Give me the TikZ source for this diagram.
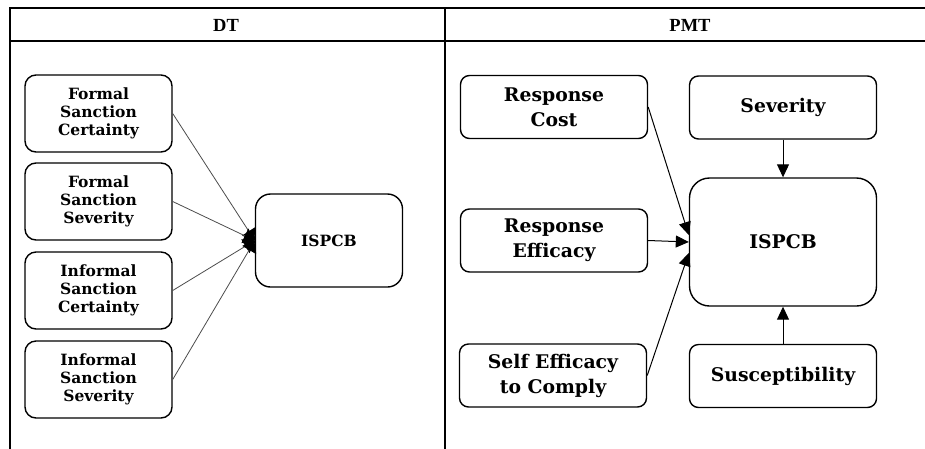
\documentclass[tikz,border=0pt]{standalone}
\usepackage{fontspec}
\setmainfont{DejaVu Serif}
\newfontfamily\headfont{Liberation Serif}
\usetikzlibrary{arrows.meta}
\tikzset{
  tline/.style={line width=2pt, line cap=rect},
  dtbox/.style={draw, line width=1.4pt, rounded corners=11pt, align=center,
    minimum width=147pt, minimum height=77pt, inner sep=0pt,
    font=\fontsize{15.5}{18}\selectfont\bfseries},
  dtcore/.style={dtbox, minimum height=93pt, rounded corners=15pt},
  pmbox/.style={draw, line width=1.4pt, rounded corners=9pt, align=center,
    minimum width=187pt, minimum height=63pt, inner sep=0pt,
    font=\fontsize{18.8}{25}\selectfont\bfseries},
  pmcore/.style={pmbox, minimum height=128pt, rounded corners=20pt},
  dtarrow/.style={draw=black!70, line width=0.8pt, -{Triangle[length=11pt,width=16pt,fill=black,color=black]}},
  pmarrow/.style={line width=1pt, -{Triangle[length=13pt,width=12pt]}},
  head/.style={font=\headfont\fontsize{18.5}{20}\selectfont\bfseries}
}
\begin{document}
\begin{tikzpicture}[x=1pt,y=-1pt]
\useasboundingbox (0,0) rectangle (925,448);
% table
\coordinate (tl) at (10,8);
\coordinate (tr) at (925,8);
\coordinate (hl) at (10,41);
\coordinate (hr) at (925,41);
\coordinate (bl) at (10,448);
\coordinate (mt) at (445,8);
\coordinate (mb) at (445,448);
\draw[tline] (tl) -- (tr);
\draw[tline] (hl) -- (hr);
\draw[tline] (tl) -- (bl);
\draw[tline] (mt) -- (mb);
\node[head] (hdt) at (226,25) {DT};
\node[head] (hpmt) at (690,25) {PMT};
% DT
\node[dtbox] (fsc) at (98.5,113.5) {Formal\\Sanction\\Certainty};
\node[dtbox] (fss) at (98.5,201.5) {Formal\\Sanction\\Severity};
\node[dtbox] (isc) at (98.5,290.5) {Informal\\Sanction\\Certainty};
\node[dtbox] (iss) at (98.5,379.5) {Informal\\Sanction\\Severity};
\node[dtcore] (dtisp) at (329,240.5) {ISPCB};
\draw[dtarrow] (fsc.east) -- (dtisp.west);
\draw[dtarrow] (fss.east) -- (dtisp.west);
\draw[dtarrow] (isc.east) -- (dtisp.west);
\draw[dtarrow] (iss.east) -- (dtisp.west);
% PMT
\node[pmbox] (rc) at (554,107) {Response\\Cost};
\node[pmbox] (re) at (554,240.5) {Response\\Efficacy};
\node[pmbox] (se) at (553,375.5) {Self Efficacy\\to Comply};
\node[pmbox] (sev) at (783,107.5) {Severity};
\node[pmcore] (pmisp) at (783,242) {ISPCB};
\node[pmbox] (sus) at (783,376) {Susceptibility};
\draw[pmarrow] (rc.east) -- ([yshift=7pt]pmisp.west);
\draw[pmarrow] (re.east) -- (pmisp.west);
\draw[pmarrow] (se.east) -- ([yshift=-11pt]pmisp.west);
\draw[pmarrow] (sev.south) -- (pmisp.north);
\draw[pmarrow] (sus.north) -- (pmisp.south);
\end{tikzpicture}
\end{document}
